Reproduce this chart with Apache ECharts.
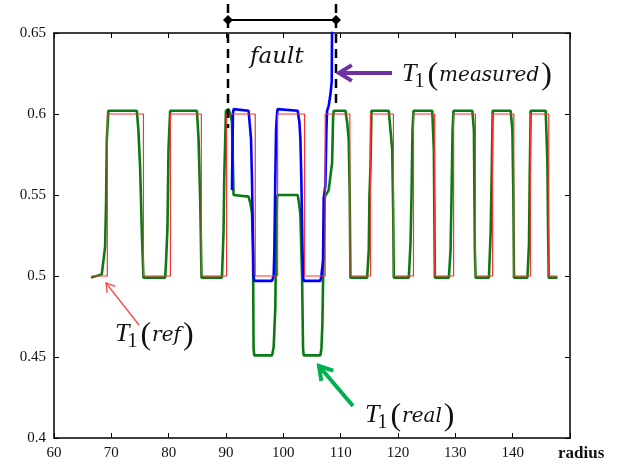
<!DOCTYPE html>
<html>
<head>
<meta charset="utf-8">
<script src="https://cdn.jsdelivr.net/npm/echarts@6/dist/echarts.min.js"></script>
<style>
  html, body { margin: 0; background: #fff; }
  #chart { width: 621px; height: 465px; }
</style>
</head>
<body>
<div id="chart"></div>
<script>
// x axis: radius, y axis: T1 value
const xRange = [60, 150];
const yRange = [0.4, 0.65];

// T1(ref) - ideal square wave
const refPoints = [
  [66.6, 0.5], [69.3, 0.5], [69.3, 0.6], [75.6, 0.6], [75.6, 0.5], [80.3, 0.5], [80.3, 0.6],
  [85.7, 0.6], [85.7, 0.5], [90.1, 0.5], [90.1, 0.6], [95.1, 0.6], [95.1, 0.5], [99.0, 0.5],
  [99.0, 0.6], [103.7, 0.6], [103.7, 0.5], [107.3, 0.5], [107.3, 0.6], [111.6, 0.6], [111.6, 0.5],
  [115.2, 0.5], [115.2, 0.6], [119.2, 0.6], [119.2, 0.5], [122.7, 0.5], [122.7, 0.6], [126.4, 0.6],
  [126.4, 0.5], [129.7, 0.5], [129.7, 0.6], [133.5, 0.6], [133.5, 0.5], [136.5, 0.5], [136.5, 0.6],
  [140.2, 0.6], [140.2, 0.5], [143.1, 0.5], [143.1, 0.6], [146.3, 0.6], [146.3, 0.5], [147.8, 0.5]
];

// T1(real)
const realPoints = [
  [66.46, 0.499], [68.33, 0.501], [68.91, 0.518], [69.08, 0.545], [69.21, 0.584], [69.48, 0.602],
  [74.45, 0.602], [74.72, 0.590], [75.02, 0.567], [75.32, 0.527], [75.60, 0.499],
  [79.39, 0.499], [79.56, 0.510], [79.79, 0.530], [79.97, 0.578], [80.26, 0.602],
  [84.93, 0.602], [85.21, 0.585], [85.50, 0.547], [85.73, 0.499],
  [89.29, 0.499], [89.57, 0.527], [89.69, 0.560], [89.99, 0.602],
  [90.45, 0.603], [90.74, 0.600], [91.04, 0.595], [91.32, 0.550],
  [93.94, 0.549], [94.24, 0.545], [94.53, 0.539], [94.71, 0.516], [94.81, 0.455], [94.93, 0.451],
  [98.03, 0.451], [98.31, 0.456], [98.60, 0.480], [98.73, 0.520], [98.90, 0.548], [99.00, 0.550],
  [102.50, 0.550], [102.74, 0.545], [102.97, 0.538], [103.27, 0.500], [103.44, 0.455], [103.55, 0.451],
  [106.46, 0.451], [106.64, 0.455], [106.81, 0.470], [107.04, 0.520], [107.25, 0.549], [107.91, 0.553],
  [108.51, 0.570], [108.68, 0.598], [108.79, 0.602],
  [110.83, 0.602], [111.13, 0.595], [111.41, 0.584], [111.58, 0.550], [111.70, 0.499],
  [114.62, 0.499], [114.90, 0.516], [115.02, 0.550], [115.20, 0.567], [115.37, 0.602],
  [118.39, 0.602], [118.69, 0.590], [118.99, 0.578], [119.16, 0.540], [119.27, 0.499],
  [121.89, 0.499], [122.18, 0.520], [122.36, 0.550], [122.53, 0.590], [122.71, 0.602],
  [125.97, 0.602], [126.25, 0.578], [126.43, 0.499],
  [128.87, 0.499], [129.17, 0.516], [129.34, 0.550], [129.52, 0.590], [129.69, 0.602],
  [132.96, 0.602], [133.24, 0.590], [133.41, 0.515], [133.54, 0.499],
  [135.86, 0.499], [136.16, 0.527], [136.33, 0.560], [136.51, 0.602],
  [139.65, 0.602], [139.95, 0.590], [140.12, 0.550], [140.23, 0.499],
  [142.57, 0.499], [142.85, 0.520], [142.97, 0.560], [143.14, 0.602],
  [145.76, 0.602], [146.06, 0.570], [146.17, 0.530], [146.29, 0.499],
  [147.81, 0.499]
];

// T1(measured), only inside the fault zone
const measuredPoints = [
  [91.04, 0.553], [91.21, 0.600], [91.32, 0.603], [93.94, 0.602], [94.11, 0.595], [94.36, 0.585],
  [94.53, 0.560], [94.71, 0.520], [94.81, 0.500], [94.93, 0.497],
  [98.03, 0.497], [98.31, 0.500], [98.43, 0.515], [98.60, 0.560], [98.73, 0.590], [98.90, 0.600],
  [99.00, 0.603], [102.50, 0.602], [102.80, 0.595], [102.97, 0.585], [103.14, 0.560], [103.32, 0.520],
  [103.44, 0.500], [103.55, 0.497],
  [106.46, 0.497], [106.64, 0.500], [106.93, 0.510], [107.04, 0.548], [107.34, 0.556], [107.51, 0.590],
  [107.63, 0.602], [107.91, 0.605], [108.21, 0.612], [108.44, 0.620], [108.51, 0.660]
];

const measure = document.createElement('canvas').getContext('2d');

// T_1(word) built from pieces so the subscript sits low
function mathLabel(x, base, word) {
  const parts = [
    { t: 'T', style: 'italic', size: 26, fam: 'Liberation Serif', dy: 0, gap: 0 },
    { t: '1', style: 'normal', size: 20, fam: 'Liberation Serif', dy: 6, gap: -2 },
    { t: '(', style: 'normal', size: 32, fam: 'Liberation Serif', dy: 3, gap: 3 },
    { t: word, style: 'italic', size: 20, fam: 'DejaVu Serif', dy: 0, gap: 1 },
    { t: ')', style: 'normal', size: 32, fam: 'Liberation Serif', dy: 3, gap: 2 }
  ];
  let cx = x;
  return parts.map(p => {
    cx += p.gap;
    measure.font = p.style + ' ' + p.size + 'px "' + p.fam + '"';
    const el = {
      type: 'text', x: cx, y: base + p.dy - 0.3 * p.size, z: 100,
      style: {
        text: p.t, fontStyle: p.style, fontSize: p.size, fontFamily: p.fam,
        fill: '#111', align: 'left', verticalAlign: 'middle'
      }
    };
    cx += measure.measureText(p.t).width;
    return el;
  });
}

function arrow(x1, y1, x2, y2, color, width, head) {
  const a = Math.atan2(y2 - y1, x2 - x1);
  const p1 = [x2 - head * Math.cos(a - 0.55), y2 - head * Math.sin(a - 0.55)];
  const p2 = [x2 - head * Math.cos(a + 0.55), y2 - head * Math.sin(a + 0.55)];
  return [
    { type: 'line', z: 100, shape: { x1: x1, y1: y1, x2: x2, y2: y2 }, style: { stroke: color, lineWidth: width } },
    { type: 'polyline', z: 100, shape: { points: [p1, [x2, y2], p2] }, style: { stroke: color, lineWidth: width, fill: null } }
  ];
}

function diamond(x, y) {
  return { type: 'polygon', z: 101, shape: { points: [[x, y - 5], [x + 5, y], [x, y + 5], [x - 5, y]] }, style: { fill: '#000' } };
}

const myChart = echarts.init(document.getElementById('chart'));

const axisLine = { lineStyle: { color: '#000', width: 1.5 } };
const tickStyle = { inside: true, length: 5, lineStyle: { color: '#000', width: 1 } };

const option = {
  animation: false,
  grid: { left: 54, right: 51, top: 33, bottom: 27 },
  xAxis: [
    {
      type: 'value', min: xRange[0], max: xRange[1], interval: 10,
      axisLine: axisLine, axisTick: tickStyle, splitLine: { show: false },
      axisLabel: {
        margin: 8, color: '#111', fontFamily: 'Liberation Serif', fontSize: 15,
        formatter: v => (v === 150 ? '' : String(v))
      }
    },
    {
      type: 'value', position: 'top', min: xRange[0], max: xRange[1], interval: 10,
      axisLine: axisLine, axisTick: tickStyle, axisLabel: { show: false }, splitLine: { show: false }
    }
  ],
  yAxis: [
    {
      type: 'value', min: yRange[0], max: yRange[1], interval: 0.05,
      axisLine: axisLine, axisTick: tickStyle, splitLine: { show: false },
      axisLabel: {
        margin: 8, color: '#111', fontFamily: 'Liberation Serif', fontSize: 15,
        formatter: v => String(+v.toFixed(2))
      }
    },
    {
      type: 'value', position: 'right', min: yRange[0], max: yRange[1], interval: 0.05,
      axisLine: axisLine, axisTick: tickStyle, axisLabel: { show: false }, splitLine: { show: false }
    }
  ],
  series: [
    {
      name: 'T1(real)', type: 'line', data: realPoints, showSymbol: false, z: 2,
      lineStyle: { color: '#0b7a14', width: 2.6 }
    },
    {
      name: 'T1(measured)', type: 'line', data: measuredPoints, showSymbol: false, z: 3,
      lineStyle: { color: '#0000ff', width: 2.6 }
    },
    {
      name: 'T1(ref)', type: 'line', data: refPoints, showSymbol: false, z: 4,
      lineStyle: { color: '#ff3030', width: 1.2 }
    }
  ],
  graphic: [
    // fault zone markers
    { type: 'line', z: 100, shape: { x1: 228, y1: 4, x2: 228, y2: 128 }, style: { stroke: '#000', lineWidth: 2.5, lineDash: [9, 6] } },
    { type: 'line', z: 100, shape: { x1: 336, y1: 4, x2: 336, y2: 108 }, style: { stroke: '#000', lineWidth: 2.5, lineDash: [9, 6] } },
    { type: 'line', z: 100, shape: { x1: 228, y1: 20, x2: 336, y2: 20 }, style: { stroke: '#000', lineWidth: 2 } },
    diamond(228, 20),
    diamond(336, 20),
    {
      type: 'text', x: 250, y: 57, z: 100,
      style: { text: 'fault', fontStyle: 'italic', fontSize: 23, fontFamily: 'DejaVu Serif', fill: '#111', verticalAlign: 'middle' }
    },
    ...arrow(392, 73, 339, 73, '#7030a0', 4, 15),
    ...arrow(139, 325, 106, 283, '#ff4545', 1.3, 10),
    ...arrow(353, 406, 319, 366, '#00b050', 4, 15),
    ...mathLabel(402, 82, 'measured'),
    ...mathLabel(115, 342, 'ref'),
    ...mathLabel(365, 423, 'real'),
    {
      type: 'text', x: 558, y: 454, z: 100,
      style: { text: 'radius', fontWeight: 'bold', fontSize: 17, fontFamily: 'Liberation Serif', fill: '#111', verticalAlign: 'middle' }
    }
  ]
};

myChart.setOption(option);
</script>
</body>
</html>
